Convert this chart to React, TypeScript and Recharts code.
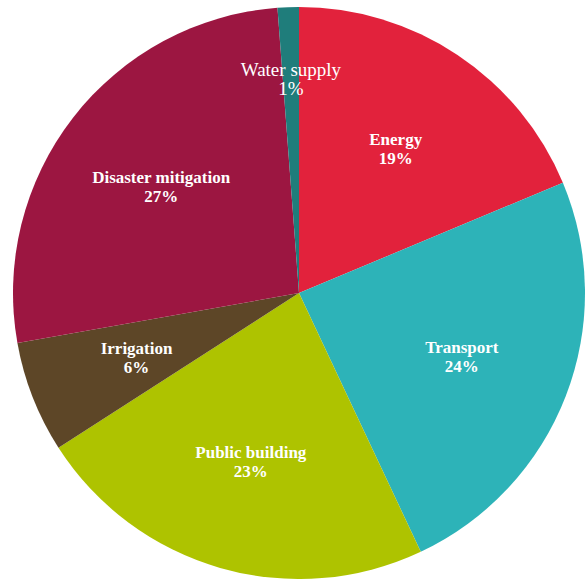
import { PieChart, Pie, Cell } from "recharts";

const categories = [
  "Energy",
  "Transport",
  "Public building",
  "Irrigation",
  "Disaster mitigation",
  "Water supply",
];
const shares = [18.7, 24.3, 22.9, 6.3, 26.6, 1.2];
const percentLabels = ["19%", "24%", "23%", "6%", "27%", "1%"];
const colors = ["#E2223C", "#2DB3B8", "#AEC300", "#5D4627", "#9C1641", "#1F7D7B"];

const data = categories.map((name, i) => ({ name, value: shares[i], pct: percentLabels[i] }));

const RADIAN = Math.PI / 180;

function renderLabel(props: any) {
  const { cx, cy, midAngle, outerRadius, index } = props;
  const small = shares[index] < 3;
  const r = outerRadius * (small ? 0.75 : 0.61);
  const x = cx + r * Math.cos(-midAngle * RADIAN);
  const y = cy + r * Math.sin(-midAngle * RADIAN);
  return (
    <text
      x={x}
      y={y}
      fill="#fff"
      textAnchor="middle"
      fontFamily="'Liberation Serif', 'Times New Roman', serif"
      fontSize={small ? 19 : 17}
      fontWeight={small ? "normal" : "bold"}
    >
      <tspan x={x} dy={-3}>{categories[index]}</tspan>
      <tspan x={x} dy={19}>{percentLabels[index]}</tspan>
    </text>
  );
}

export default function App() {
  return (
    <div style={{ position: "absolute", left: 0, top: 0, background: "#fff" }}>
      <PieChart width={585} height={579} margin={{ top: 0, right: 0, bottom: 0, left: 0 }}>
        <Pie
          data={data}
          dataKey="value"
          cx={299}
          cy={293}
          outerRadius={286}
          startAngle={90}
          endAngle={-270}
          stroke="none"
          labelLine={false}
          label={renderLabel}
          isAnimationActive={false}
        >
          {data.map((entry, i) => (
            <Cell key={entry.name} fill={colors[i]} />
          ))}
        </Pie>
      </PieChart>
    </div>
  );
}
